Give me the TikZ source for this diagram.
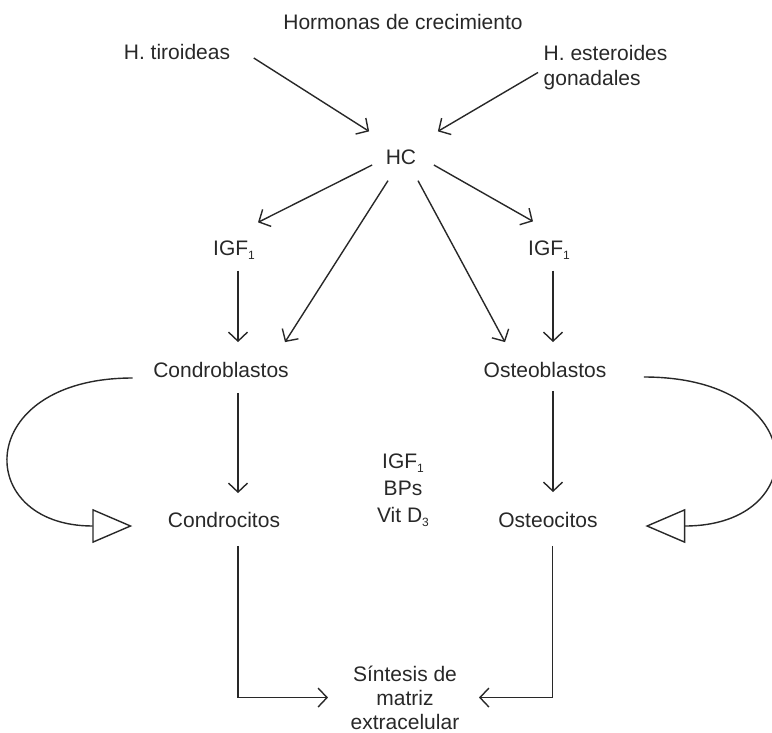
\documentclass[tikz,border=0pt]{standalone}
\usepackage{fontspec}
\setmainfont{Liberation Sans}
\usetikzlibrary{arrows.meta}
\usetikzlibrary{calc}
\definecolor{inkgray}{RGB}{40,40,40}
\newcommand{\drawflow}{\draw[-{Straight Barb[length=9pt,width=19pt]}]}
\newcommand{\drawloop}{\draw[-{Triangle[open,length=40pt,width=34pt]}]}
\newcommand{\lowidx}[1]{\raisebox{-4pt}[0pt][0pt]{\fontsize{12}{12}\selectfont #1}}

\begin{document}
\begin{tikzpicture}[x=1pt,y=-1pt,line width=1.4pt,color=inkgray,
    txt/.style={inner sep=0pt,font=\fontsize{21}{25}\selectfont}]
    \useasboundingbox (0,0) rectangle (772,732);

    % Hormones acting on HC
    \node[txt] (titulo) at (403,22) {Hormonas de crecimiento};
    \node[txt] (tir) at (177,52) {H. tiroideas};
    \node[txt,align=left,anchor=north west] (est) at (543,44.5) {H. esteroides\\gonadales};
    \node[txt] (hc) at (401,157) {HC};

    % Cell columns
    \node[txt] (igfL) at (234,248) {IGF\lowidx{1}};
    \node[txt] (igfR) at (549,248) {IGF\lowidx{1}};
    \node[txt] (cb) at (221,370) {Condroblastos};
    \node[txt] (ob) at (545,370) {Osteoblastos};
    \node[txt] (cc) at (224,520) {Condrocitos};
    \node[txt] (oc) at (548,520) {Osteocitos};
    \node[txt,align=center,anchor=north,font=\fontsize{21}{27}\selectfont] (fact) at (403,453.5) {IGF\lowidx{1}\\BPs\\Vit D\lowidx{3}};
    \node[txt,align=center,anchor=north,font=\fontsize{21}{24}\selectfont] (sint) at (405,665) {Síntesis de\\matriz\\extracelular};

    % Arrows into HC
    \drawflow ($(tir.east)+(23,6)$) -- ($(hc.north west)+(-16,-17.5)$);
    \drawflow ($(est.west)+(-5,5)$) -- ($(hc.north east)+(21,-17.5)$);

    % Arrows out of HC
    \drawflow ($(hc.west)+(-13,8)$) -- ($(igfL.north)+(24,-17.5)$);
    \drawflow ($(hc.south)+(-13,15.5)$) -- ($(cb.north)+(64,-19.5)$);
    \drawflow ($(hc.south)+(17,15.5)$) -- ($(ob.north)+(-40,-19.5)$);
    \drawflow ($(hc.east)+(17,8)$) -- ($(igfR.north)+(-16,-18.5)$);

    % Down the columns
    \drawflow ($(igfL.south)+(4,14.5)$) -- ($(cb.north)+(17,-19.5)$);
    \drawflow ($(igfR.south)+(4,14.5)$) -- ($(ob.north)+(8,-19.5)$);
    \drawflow ($(cb.south)+(17,14.5)$) -- ($(cc.north)+(14,-18.5)$);
    \drawflow ($(ob.south)+(8,12.5)$) -- ($(oc.north)+(5,-19.5)$);

    % Side loops
    \drawloop ($(cb.west)+(-20,8)$) .. controls +(-160,0) and +(-160,0) .. ($(cc.west)+(-35,6)$);
    \drawloop ($(ob.east)+(37,7)$) .. controls +(168,0) and +(168,0) .. ($(oc.east)+(47,6)$);

    % Into the matrix
    \drawflow ($(cc.south)+(14,17.5)$) |- ($(sint.west)+(-22,0)$);
    \drawflow ($(oc.south)+(4.5,17.5)$) |- ($(sint.east)+(19,0)$);
\end{tikzpicture}
\end{document}
